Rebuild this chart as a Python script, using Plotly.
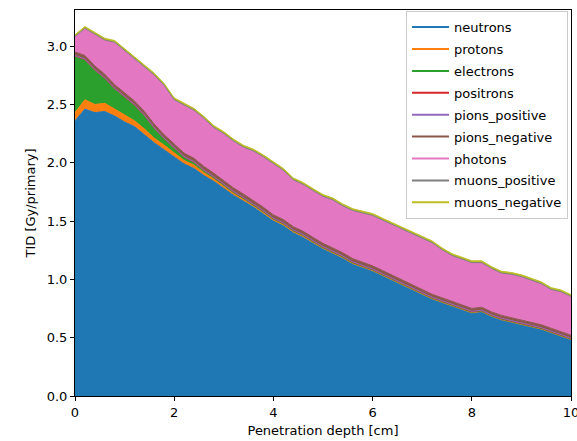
import plotly.graph_objects as go

depth = [0.0, 0.2, 0.4, 0.6, 0.8, 1.0, 1.2, 1.4, 1.6, 1.8,
         2.0, 2.2, 2.4, 2.6, 2.8, 3.0, 3.2, 3.4, 3.6, 3.8,
         4.0, 4.2, 4.4, 4.6, 4.8, 5.0, 5.2, 5.4, 5.6, 5.8,
         6.0, 6.2, 6.4, 6.6, 6.8, 7.0, 7.2, 7.4, 7.6, 7.8,
         8.0, 8.2, 8.4, 8.6, 8.8, 9.0, 9.2, 9.4, 9.6, 9.8,
         10.0]

neutrons = [2.36, 2.46, 2.43, 2.44, 2.40, 2.35, 2.31, 2.24, 2.17, 2.11,
            2.05, 1.99, 1.95, 1.89, 1.84, 1.78, 1.72, 1.67, 1.62, 1.56,
            1.50, 1.46, 1.40, 1.36, 1.31, 1.26, 1.22, 1.18, 1.13, 1.10,
            1.07, 1.03, 0.99, 0.95, 0.91, 0.87, 0.83, 0.80, 0.77, 0.74,
            0.71, 0.72, 0.68, 0.65, 0.63, 0.61, 0.59, 0.57, 0.54, 0.51,
            0.48]

protons = [0.07, 0.08, 0.07, 0.07, 0.06, 0.06, 0.05, 0.05, 0.04, 0.04,
           0.035, 0.03, 0.03, 0.025, 0.02, 0.02, 0.015, 0.015, 0.012, 0.012,
           0.01, 0.01, 0.01, 0.01, 0.008, 0.008, 0.008, 0.007, 0.007, 0.007,
           0.006, 0.006, 0.006, 0.006, 0.006, 0.006, 0.005, 0.005, 0.005, 0.005,
           0.005, 0.005, 0.005, 0.005, 0.005, 0.005, 0.005, 0.005, 0.005, 0.005,
           0.005]

electrons = [0.48, 0.34, 0.29, 0.21, 0.17, 0.15, 0.13, 0.11, 0.08, 0.05,
             0.035, 0.025, 0.02, 0.015, 0.012, 0.01, 0.01, 0.008, 0.008, 0.008,
             0.007, 0.007, 0.006, 0.006, 0.006, 0.005, 0.005, 0.005, 0.005, 0.005,
             0.005, 0.005, 0.005, 0.005, 0.005, 0.005, 0.005, 0.005, 0.005, 0.005,
             0.004, 0.004, 0.004, 0.004, 0.004, 0.004, 0.004, 0.004, 0.004, 0.004,
             0.004]

positrons = [0.006, 0.006, 0.006, 0.006, 0.006, 0.006, 0.006, 0.006, 0.006, 0.006,
             0.005, 0.005, 0.005, 0.005, 0.005, 0.005, 0.005, 0.005, 0.005, 0.005,
             0.005, 0.005, 0.005, 0.005, 0.005, 0.005, 0.005, 0.005, 0.005, 0.005,
             0.004, 0.004, 0.004, 0.004, 0.004, 0.004, 0.004, 0.004, 0.004, 0.004,
             0.004, 0.004, 0.004, 0.004, 0.004, 0.004, 0.004, 0.004, 0.004, 0.004,
             0.004]

pions_positive = [0.004, 0.004, 0.004, 0.004, 0.004, 0.004, 0.004, 0.004, 0.004, 0.004,
                  0.003, 0.003, 0.003, 0.003, 0.003, 0.003, 0.003, 0.003, 0.003, 0.003,
                  0.003, 0.003, 0.003, 0.003, 0.003, 0.003, 0.003, 0.003, 0.003, 0.003,
                  0.003, 0.003, 0.003, 0.003, 0.003, 0.003, 0.003, 0.003, 0.003, 0.003,
                  0.003, 0.003, 0.003, 0.003, 0.003, 0.003, 0.003, 0.003, 0.003, 0.003,
                  0.003]

pions_negative = [0.030, 0.030, 0.030, 0.030, 0.030, 0.030, 0.030, 0.030, 0.030, 0.030,
                  0.030, 0.030, 0.030, 0.030, 0.030, 0.030, 0.030, 0.030, 0.030, 0.030,
                  0.028, 0.028, 0.028, 0.028, 0.028, 0.028, 0.028, 0.028, 0.028, 0.028,
                  0.028, 0.028, 0.028, 0.028, 0.028, 0.025, 0.025, 0.025, 0.025, 0.025,
                  0.025, 0.025, 0.025, 0.025, 0.025, 0.025, 0.025, 0.025, 0.025, 0.025,
                  0.025]

photons = [0.13, 0.23, 0.27, 0.29, 0.36, 0.36, 0.36, 0.38, 0.42, 0.42,
           0.38, 0.41, 0.41, 0.41, 0.39, 0.40, 0.40, 0.40, 0.42, 0.43,
           0.44, 0.42, 0.40, 0.40, 0.40, 0.40, 0.41, 0.40, 0.41, 0.42,
           0.43, 0.43, 0.43, 0.43, 0.43, 0.44, 0.44, 0.41, 0.39, 0.39,
           0.39, 0.38, 0.37, 0.36, 0.37, 0.37, 0.36, 0.35, 0.33, 0.34,
           0.33]

muons_positive = [0.003, 0.003, 0.003, 0.003, 0.003, 0.003, 0.003, 0.003, 0.003, 0.003,
                  0.003, 0.003, 0.003, 0.003, 0.003, 0.003, 0.003, 0.003, 0.003, 0.003,
                  0.003, 0.003, 0.003, 0.003, 0.003, 0.003, 0.003, 0.003, 0.003, 0.003,
                  0.003, 0.003, 0.003, 0.003, 0.003, 0.003, 0.003, 0.003, 0.003, 0.003,
                  0.003, 0.003, 0.003, 0.003, 0.003, 0.003, 0.003, 0.003, 0.003, 0.003,
                  0.003]

muons_negative = [0.015, 0.015, 0.015, 0.015, 0.015, 0.015, 0.015, 0.015, 0.015, 0.015,
                  0.015, 0.015, 0.015, 0.015, 0.015, 0.015, 0.015, 0.015, 0.015, 0.015,
                  0.015, 0.015, 0.015, 0.015, 0.015, 0.015, 0.015, 0.015, 0.015, 0.015,
                  0.015, 0.015, 0.015, 0.015, 0.015, 0.015, 0.015, 0.015, 0.015, 0.015,
                  0.015, 0.015, 0.015, 0.015, 0.015, 0.015, 0.015, 0.015, 0.015, 0.015,
                  0.015]

series_names = ["neutrons", "protons", "electrons", "positrons", "pions_positive",
                "pions_negative", "photons", "muons_positive", "muons_negative"]
series_values = [neutrons, protons, electrons, positrons, pions_positive,
                 pions_negative, photons, muons_positive, muons_negative]
colors = ["#1f77b4", "#ff7f0e", "#2ca02c", "#d62728", "#9467bd",
          "#8c564b", "#e377c2", "#7f7f7f", "#bcbd22"]

x_ticks = [0, 2, 4, 6, 8, 10]
y_ticks = [0.0, 0.5, 1.0, 1.5, 2.0, 2.5, 3.0]

FONT = "DejaVu Sans"

fig = go.Figure()
for name, vals, c in zip(series_names, series_values, colors):
    fig.add_trace(go.Scatter(
        x=depth, y=vals, stackgroup="one", mode="lines",
        line=dict(color=c, width=1), fillcolor=c,
        showlegend=False, hoverinfo="skip", name=name,
    ))
# legend proxies drawn as lines (matplotlib-like)
for name, c in zip(series_names, colors):
    fig.add_trace(go.Scatter(
        x=[None], y=[None], mode="lines", line=dict(color=c, width=2),
        name=name, legendgroup=name, showlegend=True,
    ))

fig.update_layout(
    width=577, height=441,
    margin=dict(l=75, r=6, t=10, b=45, autoexpand=False),
    paper_bgcolor="white", plot_bgcolor="white",
    font=dict(family=FONT, size=13, color="black"),
    showlegend=True,
    legend=dict(
        x=0.994, y=0.997, xanchor="right", yanchor="top",
        bgcolor="rgba(255,255,255,0.8)", bordercolor="#cccccc", borderwidth=1,
        font=dict(family=FONT, size=13, color="black"),
        traceorder="grouped", tracegroupgap=2, itemwidth=37,
    ),
    xaxis=dict(
        range=[0, 10], tickvals=x_ticks, ticktext=[str(v) for v in x_ticks],
        ticklabeloverflow="allow", automargin=False,
        showgrid=False, zeroline=False, showline=True, mirror=True,
        linecolor="black", linewidth=1, ticks="outside", ticklen=4,
        tickwidth=1, tickcolor="black",
        title=dict(text="Penetration depth [cm]", standoff=7,
                   font=dict(family=FONT, size=13)),
    ),
    yaxis=dict(
        range=[0, 3.31], tickvals=y_ticks, ticktext=[f"{v:.1f}" for v in y_ticks],
        automargin=False,
        showgrid=False, zeroline=False, showline=True, mirror=True,
        linecolor="black", linewidth=1, ticks="outside", ticklen=4,
        tickwidth=1, tickcolor="black",
        title=dict(text="TID [Gy/primary]", standoff=8,
                   font=dict(family=FONT, size=13)),
    ),
)

fig.write_html("out.html")
